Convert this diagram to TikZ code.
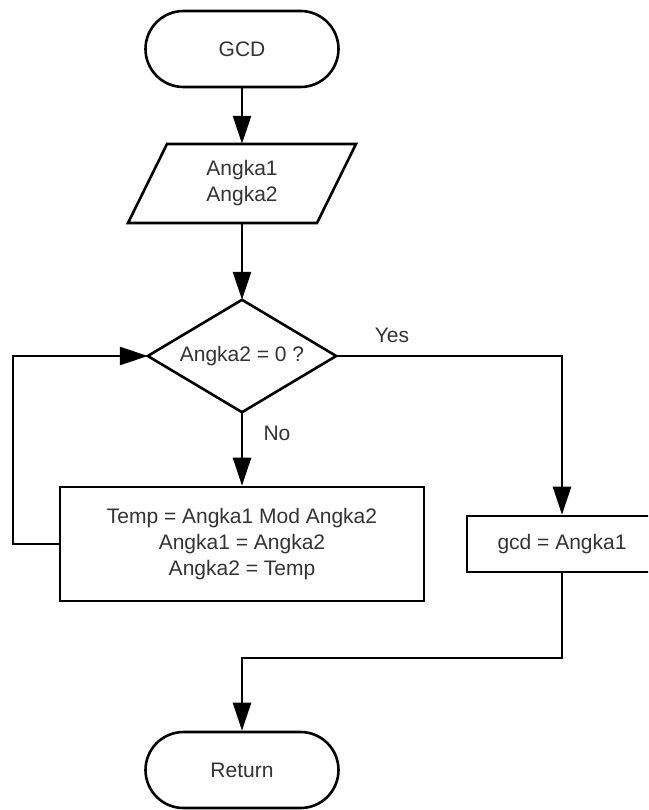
\documentclass[tikz,border=0pt]{standalone}
\usepackage{fontspec}
\setmainfont{Liberation Sans}
\usetikzlibrary{arrows.meta}
\definecolor{txt}{HTML}{333333}
\begin{document}
\begin{tikzpicture}[x=1pt,y=-1pt,
  every node/.style={font=\fontsize{21}{26}\selectfont, text=txt, align=center, inner sep=0pt},
  ln/.style={line width=2.6pt, draw=black},
  arr/.style={ln, -{Triangle[length=28pt,width=18pt]}},
  term/.style={ln, rounded corners=38pt, minimum width=193pt, minimum height=76pt},
  proc/.style={ln, rectangle, minimum height=56pt},
  ghost/.style={rectangle}]
\useasboundingbox (0,0) rectangle (648,810);
\fill[white] (0,0) rectangle (648,810);
\clip (0,0) rectangle (648,810);
% nodes
\node[term] (start) at (242,49) {GCD};
\node[ghost, minimum width=190pt, minimum height=79pt] (in) at (242,183.5) {Angka1\\Angka2};
\draw[ln, line join=miter] (167,144) -- (356,144) -- (317,223) -- (128,223) -- cycle;
\node[ghost, minimum width=188pt, minimum height=112pt] (dec) at (242,356) {Angka2 = 0 ?};
\draw[ln, line join=miter] (dec.north) -- (dec.east) -- (dec.south) -- (dec.west) -- cycle;
\node[proc, minimum width=364pt, minimum height=114pt] (body) at (242,544) {Temp = Angka1 Mod Angka2\\Angka1 = Angka2\\Angka2 = Temp};
\node[proc, minimum width=190pt] (res) at (562,544) {gcd = Angka1};
\node[term] (ret) at (242,770) {Return};
% labels
\node (yes) at (392,335) {Yes};
\node (no) at (277,433) {No};
\coordinate (loopc) at (13,544);
\coordinate (joinc) at (562,658);
% connectors
\draw[arr] (start.south) -- (in.north);
\draw[arr] (in.south) -- (dec.north);
\draw[arr] (dec.south) -- (body.north);
\draw[arr] (dec.east) -| (res.north);
\draw[arr] (body.west) -- (loopc) |- (dec.west);
\draw[arr] (res.south) -- (joinc) -| (ret.north);
\end{tikzpicture}
\end{document}
